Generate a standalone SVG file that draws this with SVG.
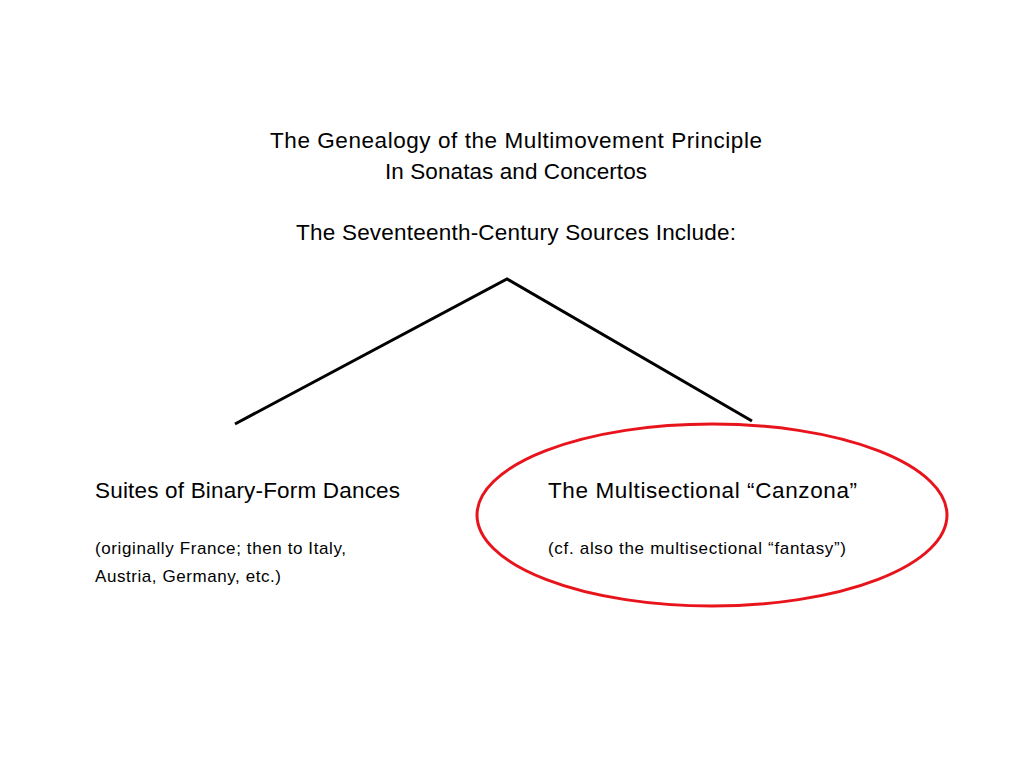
<svg xmlns="http://www.w3.org/2000/svg" width="1024" height="768" viewBox="0 0 1024 768">
<style>
.t{font-family:"Liberation Sans","Open Sans",Arial,sans-serif;fill:#000}
.big{font-size:22.5px}
.sm{font-size:17px}
.ln{stroke:#000;stroke-width:3;fill:none;stroke-linecap:butt}
</style>
<rect width="1024" height="768" fill="#fff"/>
<g id="title">
<text class="t big" x="270" y="148" textLength="492">The Genealogy of the Multimovement Principle</text>
<text class="t big" x="385" y="179" textLength="262">In Sonatas and Concertos</text>
<text class="t big" x="296" y="240" textLength="440">The Seventeenth-Century Sources Include:</text>
</g>
<g id="connectors">
<polyline class="ln" points="235,424 507,279 752,421"/>
</g>
<g id="suites">
<text class="t big" x="95" y="498" textLength="305">Suites of Binary-Form Dances</text>
<text class="t sm" x="95" y="554" textLength="251">(originally France; then to Italy,</text>
<text class="t sm" x="95" y="582" textLength="186">Austria, Germany, etc.)</text>
</g>
<g id="canzona">
<ellipse cx="712" cy="515" rx="235" ry="91" fill="none" stroke="#e8141c" stroke-width="3"/>
<text class="t big" x="548" y="498" textLength="309">The Multisectional “Canzona”</text>
<text class="t sm" x="548" y="554" textLength="298">(cf. also the multisectional “fantasy”)</text>
</g>
</svg>
